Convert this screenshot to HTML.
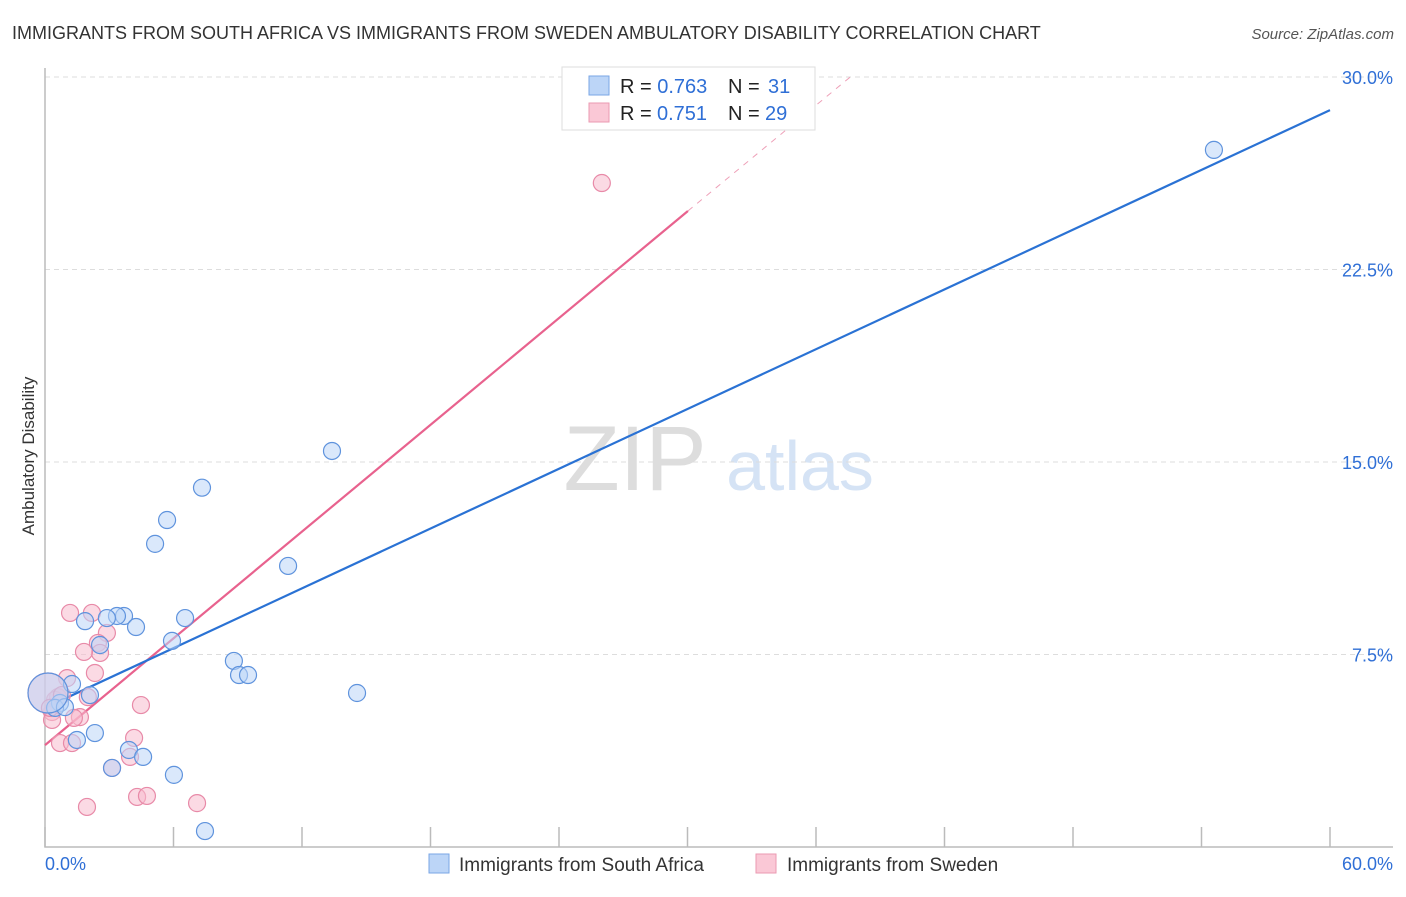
<!DOCTYPE html>
<html><head><meta charset="utf-8"><style>
body{margin:0;background:#fff;font-family:"Liberation Sans",sans-serif}
svg text{font-family:"Liberation Sans",sans-serif}
</style></head><body>
<svg id="c" width="1406" height="892" xmlns="http://www.w3.org/2000/svg">
<text x="12" y="39" font-size="18" fill="#333">IMMIGRANTS FROM SOUTH AFRICA VS IMMIGRANTS FROM SWEDEN AMBULATORY DISABILITY CORRELATION CHART</text>
<text x="1394" y="39" font-size="15" fill="#555" font-style="italic" text-anchor="end">Source: ZipAtlas.com</text>
<text x="34" y="456" font-size="17" fill="#333" text-anchor="middle" transform="rotate(-90 34 456)">Ambulatory Disability</text>
<g><text x="635" y="490" font-size="92" fill="#ddd" font-family="Liberation Serif" text-anchor="middle">ZIP</text><text x="800" y="490" font-size="70" fill="#d5e3f5" text-anchor="middle">atlas</text></g>
<g id="grid"></g><g id="axes"></g><g id="lines"></g><g id="pts"></g>
<g>
<rect x="562" y="67" width="253" height="63" fill="#fff" stroke="#ddd"/>
<rect x="589" y="76" width="20" height="19" fill="#bcd5f7" stroke="#7aa6e6"/>
<rect x="589" y="103" width="20" height="19" fill="#fac8d6" stroke="#eb9ab2"/>
<text x="620" y="93" font-size="20" fill="#222">R = <tspan fill="#2f6fd6">0.763</tspan><tspan x="728">N = </tspan><tspan fill="#2f6fd6" x="768">31</tspan></text>
<text x="620" y="120" font-size="20" fill="#222">R = <tspan fill="#2f6fd6" x="657">0.751</tspan><tspan x="728">N = </tspan><tspan fill="#2f6fd6" x="765">29</tspan></text>
</g>
<g>
<rect x="429" y="854" width="20" height="19" fill="#bcd5f7" stroke="#7aa6e6"/>
<text x="459" y="871" font-size="19" fill="#333">Immigrants from South Africa</text>
<rect x="756" y="854" width="20" height="19" fill="#fac8d6" stroke="#eb9ab2"/>
<text x="787" y="871" font-size="19" fill="#333">Immigrants from Sweden</text>
</g>
</svg>
<script>
const yTicks=[7.5,15,22.5,30];
const yTickLabels=["7.5%","15.0%","22.5%","30.0%"];
const xTicks=[0,6,12,18,24,30,36,42,48,54,60];
const blueX=[54.58,13.40,7.33,5.70,5.14,11.35,3.69,3.36,2.89,6.54,1.87,4.25,5.93,2.57,8.82,9.06,9.48,1.26,14.57,2.10,0.70,0.47,0.93,2.33,1.49,3.92,4.58,3.13,6.02,7.47,0.14];
const blueY=[27.16,15.43,14.00,12.74,11.81,10.95,9.00,9.00,8.92,8.92,8.80,8.57,8.03,7.87,7.25,6.70,6.70,6.35,6.00,5.92,5.61,5.42,5.45,4.44,4.17,3.78,3.51,3.08,2.81,0.62,6.0];
const pinkX=[26.0,1.17,2.19,2.89,2.47,2.57,1.82,1.03,2.33,2.0,4.48,0.61,0.47,0.33,0.33,1.63,1.35,0.70,1.26,4.16,3.97,3.13,4.30,4.76,7.10,1.96,0.14,0.79,0.23];
const pinkY=[25.87,9.12,9.12,8.34,7.95,7.56,7.60,6.58,6.78,5.84,5.53,5.84,5.73,5.26,4.95,5.06,5.03,4.05,4.05,4.25,3.51,3.08,1.95,1.99,1.71,1.56,6.0,5.92,5.42];
const blueLine=[[0,5.42],[60,28.71]];
const pinkLine=[[0,3.97],[30.02,24.78]];
const pinkDash=[[30.02,24.78],[37.6,30]];
const X=v=>45+v/60*1285, Y=v=>847-v/7.5*192.5;
const NS="http://www.w3.org/2000/svg";
function mk(p,t,a){const e=document.createElementNS(NS,t);for(const k in a)e.setAttribute(k,a[k]);document.getElementById(p).appendChild(e);return e;}
yTicks.forEach((t,i)=>{
 const g=mk('grid','line',{x1:45,x2:1393,y1:Y(t),y2:Y(t),stroke:'#ddd','stroke-dasharray':'5,4'});
 
 
 const l=mk('axes','text',{x:1393,y:Y(t)+7,'font-size':18,fill:'#2f6fd6','text-anchor':'end'});
 l.textContent=yTickLabels[i];
 
 
});
const ax=mk('axes','path',{d:`M45,68V847H1393`,stroke:'#bbb',fill:'none','stroke-width':1.5});


xTicks.forEach(t=>{const k=mk('axes','line',{x1:X(t),x2:X(t),y1:827,y2:847,stroke:'#bbb','stroke-width':1.5});
 
 });
[["0.0%",45,'start'],["60.0%",1393,'end']].forEach(a=>{const l=mk('axes','text',{x:a[1],y:870,'font-size':18,fill:'#2f6fd6','text-anchor':a[2]});l.textContent=a[0];
 
 });
function ln(d,c,dash,n){const e=mk('lines','line',{x1:X(d[0][0]),y1:Y(d[0][1]),x2:X(d[1][0]),y2:Y(d[1][1]),stroke:c,'stroke-width':dash?1:2.2});if(dash)e.setAttribute('stroke-dasharray','6,6');
 
 }
ln(pinkLine,'#e8628e',0,'sweden-trendline');ln(pinkDash,'#eea0b8',1,'sweden-trendline-extension');ln(blueLine,'#2a72d4',0,'south-africa-trendline');
function pts(xs,ys,f,s,n){xs.forEach((x,i)=>{const big=(x<0.2&&Math.abs(ys[i]-6)<0.01);const c=mk('pts','circle',{cx:X(x),cy:Y(ys[i]),r:big?20:8.5,fill:f,'fill-opacity':0.55,stroke:s,'stroke-width':1.2});
 
 });}
pts(pinkX,pinkY,'#f8bccd','#e88aa8','sweden-point');
pts(blueX,blueY,'#bcd5f7','#5f93dd','south-africa-point');
</script>
</body></html>
